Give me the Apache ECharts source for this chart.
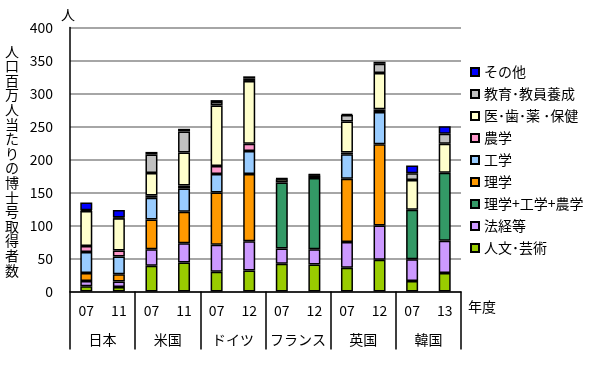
<!DOCTYPE html>
<html><head><meta charset="utf-8">
<script src="https://cdn.jsdelivr.net/npm/echarts@6/dist/echarts.min.js"></script>
<style>html,body{margin:0;padding:0;background:#fff;}#c{width:600px;height:365px;}</style>
</head><body><div id="c"></div>
<script>
const years = ['07','11','07','11','07','12','07','12','07','12','07','13'];
const countries = ['日本','米国','ドイツ','フランス','英国','韓国'];
const yTicks = [0,50,100,150,200,250,300,350,400];
// stacked from bottom
const humanities = [8, 7, 39, 44, 30, 32, 42, 41, 36, 48, 16, 28];
const lawEcon    = [8, 8, 25, 29, 41, 44, 23, 23, 39, 52, 33, 49];
const sciEngAgr  = [null, null, null, null, null, null, 100, 108, null, null, 75, 103];
const science    = [12, 11, 45, 48, 79, 102, null, null, 96, 123, null, null];
const engineering= [32, 27, 33, 35, 28, 35, null, null, 37, 49, null, null];
const agriculture= [9, 9, 3.5, 4.5, 12, 11, null, null, 2.5, 4, null, null];
const medical    = [53, 49, 34, 50, 92, 95, 5, 4, 47, 55, 45, 44];
const education  = [1, 1, 28, 32, 5, 4, 1, 1, 10, 14, 10, 15];
const other      = [12, 11.5, 4, 4, 3, 3, 0.5, 0.5, 1.7, 3, 12, 11.5];

const names = ['人文･芸術','法経等','理学+工学+農学','理学','工学','農学','医･歯･薬 ･保健','教育･教員養成','その他'];
const colors = ['#99CC00','#CC99FF','#339966','#FF9900','#99CCFF','#FF99CC','#FFFFCC','#C0C0C0','#0000FF'];
const values = [humanities, lawEcon, sciEngAgr, science, engineering, agriculture, medical, education, other];

const font = '"Noto Sans CJK JP", sans-serif';
const chart = echarts.init(document.getElementById('c'));
chart.setOption({
  backgroundColor: '#ffffff',
  animation: false,
  textStyle: {fontFamily: font, color: '#000'},
  grid: {left: 70, right: 139, top: 27.5, bottom: 73.5, containLabel: false},
  legend: {
    orient: 'vertical', left: 465, top: 60,
    data: names.slice().reverse(),
    itemWidth: 8, itemHeight: 8, itemGap: 8,
    icon: 'rect',
    textStyle: {fontFamily: font, fontSize: 14, color: '#000', lineHeight: 14}
  },
  xAxis: [
    {type: 'category', data: years, position: 'bottom',
     axisLine: {show: true, lineStyle: {color: '#000', width: 1.5}},
     axisTick: {show: false},
     axisLabel: {fontFamily: font, fontSize: 14, color: '#000', margin: 12, interval: 0}},
    {type: 'category', data: countries, position: 'bottom', gridIndex: 0,
     axisLine: {show: false},
     axisTick: {show: true, length: 58, lineStyle: {color: '#000', width: 1.5}},
     axisLabel: {fontFamily: font, fontSize: 14, color: '#000', margin: 41, interval: 0},
     splitLine: {show: false}}
  ],
  yAxis: {
    type: 'value', min: 0, max: 400, interval: 50,
    axisLine: {show: true, lineStyle: {color: '#000', width: 1.5}},
    axisTick: {show: false},
    axisLabel: {fontFamily: font, fontSize: 14, color: '#000', margin: 17,
      formatter: v => yTicks.includes(v) ? String(v) : ''},
    splitLine: {show: true, lineStyle: {color: '#888', width: 1.5}}
  },
  series: names.map((n, i) => ({
    name: n, type: 'bar', stack: 'total', xAxisIndex: 0,
    barWidth: 12,
    data: values[i],
    itemStyle: {color: colors[i], borderColor: '#000', borderWidth: 1.5}
  })),
  graphic: [
    {type: 'text', left: 61, top: 8, style: {text: '人', font: '14px ' + font, fill: '#000'}},
    {type: 'text', left: 5, top: 44, style: {text: '人口百万人当たりの博士号取得者数'.split('').join('\n'), font: '14px ' + font, fill: '#000', lineHeight: 14.6}},
    {type: 'text', left: 468, top: 300, style: {text: '年度', font: '14px ' + font, fill: '#000'}}
  ]
});
</script></body></html>
